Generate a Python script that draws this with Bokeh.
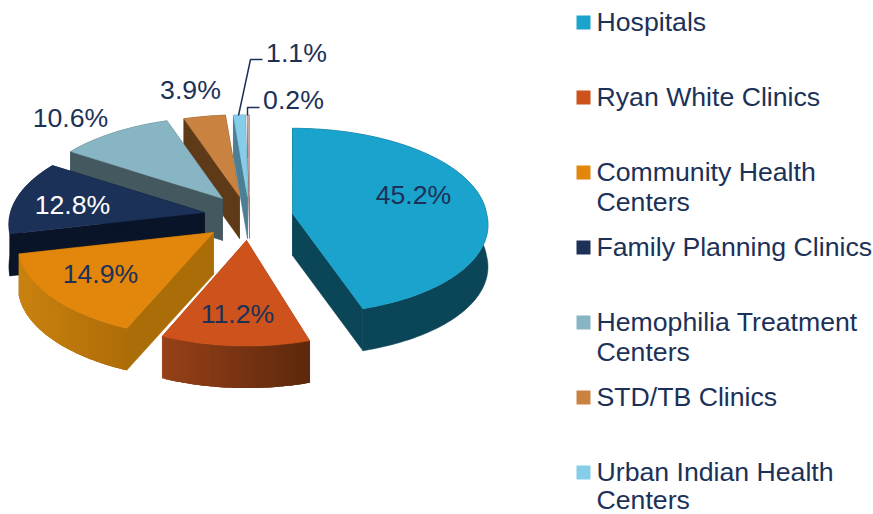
import numpy as np
from bokeh.plotting import figure
from bokeh.embed import file_html
from bokeh.resources import INLINE
from bokeh.core.properties import value

categories = ["Hospitals", "Ryan White Clinics", "Community Health\nCenters", "Family Planning Clinics",
              "Hemophilia Treatment\nCenters", "STD/TB Clinics", "Urban Indian Health\nCenters", "Other"]
shares = [45.2, 11.2, 14.9, 12.8, 10.6, 3.9, 1.1, 0.2]
top_colors = ["#1aa3cd", "#cd521b", "#e2860c", "#1c3157", "#88b5c4", "#c98240", "#86cdea", "#c9a7a3"]
edge_colors = [("#0b4558", "#0b4558"), ("#964018", "#5c280c"), ("#c9820f", "#ae6c08"), ("#0a1428", "#0a1428"),
               ("#44595f", "#44595f"), ("#5f3a18", "#5f3a18"), ("#4d7f94", "#4d7f94"), ("#8a7270", "#8a7270")]
side_colors = ["#0b4558", "#964018", "#ab6d08", "#0a1428", "#44595f", "#5f3a18", "#4d7f94", "#8a7270"]
apex_x = [292, 246, 213, 204, 222, 239, 247, 249]
apex_y = [213, 240, 232, 212, 198, 196, 196, 196]
persp = [0.08, 0.128, 0.128, 0.128, 0.128, 0.128, 0.128, 0.128]
shear = [0.09, 0, 0, 0, 0, 0, 0, 0]
ax_scale = [1, 0.97, 1, 1, 1, 1, 1, 1]
label_text = ["45.2%", "11.2%", "14.9%", "12.8%", "10.6%", "3.9%", "1.1%", "0.2%"]
label_x = [413, 237, 100, 72, 70, 190, 296, 293]
label_y = [194, 313, 273, 204, 117, 89, 52, 99]
label_colors = ["#1c3157"] * 3 + ["#ffffff"] + ["#1c3157"] * 4
paint_order = [7, 6, 5, 4, 3, 0, 2, 1]

AX, BY, DEPTH = 194.0, 92.0, 42.0
INK = "#1c3157"


def project(theta, i):
    X, Y = np.sin(theta), np.cos(theta)
    s = 1.0 / (1.0 + persp[i] * Y)
    dy = -BY * Y * s
    return apex_x[i] + AX * ax_scale[i] * X * s + shear[i] * np.maximum(dy, 0), apex_y[i] + dy


def mix(c1, c2, t):
    a = [int(c1[k:k + 2], 16) for k in (1, 3, 5)]
    b = [int(c2[k:k + 2], 16) for k in (1, 3, 5)]
    return "#%02x%02x%02x" % tuple(int(round(u + (v - u) * t)) for u, v in zip(a, b))


p = figure(width=873, height=514, x_range=(0, 873), y_range=(514, 0), output_backend="svg",
           toolbar_location=None, min_border=0, outline_line_color=None, background_fill_color="white")
p.axis.visible = False
p.grid.visible = False

edges = np.cumsum([0.0] + shares) / sum(shares) * 2 * np.pi
for i in paint_order:
    a0, a1 = edges[i], edges[i + 1]
    th = np.linspace(a0, a1, max(4, int(np.degrees(a1 - a0))))
    x, y = project(th, i)
    ax, ay = apex_x[i], apex_y[i]
    for xe, ye in ((x[0], y[0]), (x[-1], y[-1])):
        p.patch([ax, xe, xe, ax], [ay, ye, ye + DEPTH, ay + DEPTH], fill_color=side_colors[i],
                line_color=side_colors[i], line_width=0.5)
    if edge_colors[i][0] == edge_colors[i][1]:
        c = edge_colors[i][0]
        p.patch(list(x) + list(x[::-1]), list(y) + list((y + DEPTH)[::-1]), fill_color=c, line_color=c, line_width=0.5)
    else:
        xmin, xmax = x.min(), x.max()
        order = np.argsort(x)
        xs, ys = x[order], y[order]
        for k in range(len(th) - 1):
            t = (xs[k] - xmin) / max(xmax - xmin, 1e-6)
            c = mix(edge_colors[i][0], edge_colors[i][1], t)
            j = min(k + 3, len(th) - 1)
            xp = list(xs[k:j + 1]) + list(xs[k:j + 1][::-1])
            yp = list(ys[k:j + 1]) + list((ys[k:j + 1] + DEPTH)[::-1])
            p.patch(xp, yp, fill_color=c, line_color=None)
    p.patch([ax] + list(x), [ay] + list(y), fill_color=top_colors[i], line_color=top_colors[i], line_width=0.5)

p.line([238, 250, 262], [115, 59, 59], line_color=INK, line_width=1.5)
p.line([247, 247, 259], [115, 107, 107], line_color=INK, line_width=1.5)

p.text(label_x, label_y, text=label_text, text_color=label_colors, text_font=value("Liberation Sans"),
       text_font_size="26.67px", text_align="center", text_baseline="middle")

row_h = 75
for r in range(7):
    yc = 21 + r * row_h
    p.rect([583], [yc + 1], width=14, height=14, fill_color=top_colors[r], line_color=None)
    for n, line in enumerate(categories[r].split("\n")):
        p.text([596], [yc + n * 30 - (2 if r == 6 and n == 1 else 0)], text=[line], text_color=INK,
               text_font=value("Liberation Sans"), text_font_size="26.67px", text_align="left",
               text_baseline="middle")

open("out.html", "w").write(file_html(p, INLINE))
